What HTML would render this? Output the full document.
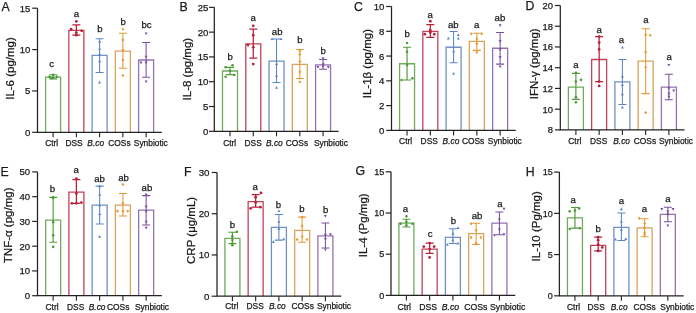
<!DOCTYPE html>
<html><head><meta charset="utf-8"><style>
html,body{margin:0;padding:0;background:#fff;width:696px;height:313px;overflow:hidden}
svg{display:block;will-change:transform}
text{font-family:"Liberation Sans",sans-serif;fill:#1a1a1a;stroke:#1a1a1a;stroke-width:0.25px}
.pl{font-size:12.3px}
.sig{font-size:9.6px;text-anchor:middle}
.tk{text-anchor:end}
.xl{font-size:8.4px}
.it{font-style:italic}
.yl{font-size:11.5px;text-anchor:middle}
</style></head><body>
<svg width="696" height="313" viewBox="0 0 696 313">
<g><text x="1.6" y="10.6" class="pl">A</text><path d="M45.6 132.3V77.2H60.6V132.3" fill="none" stroke="#6fab5c" stroke-width="1.3"/><path d="M53.1 74.72V78.94M49.1 74.72H57.1M49.1 78.94H57.1" stroke="#4f9a3a" stroke-width="1.15" fill="none"/><circle cx="53.1" cy="74.72" r="1.3" fill="#4f9a3a"/><circle cx="49.5" cy="76.7" r="1.3" fill="#4f9a3a"/><circle cx="56.9" cy="76.7" r="1.3" fill="#4f9a3a"/><circle cx="53.1" cy="77.7" r="1.3" fill="#4f9a3a"/><circle cx="51.6" cy="78.11" r="1.3" fill="#4f9a3a"/><text x="51.6" y="67.1" class="sig">c</text><path d="M68.85 132.3V30.37H83.85V132.3" fill="none" stroke="#c4425a" stroke-width="1.3"/><path d="M76.35 24.91V35.17M72.35 24.91H80.35M72.35 35.17H80.35" stroke="#b8203a" stroke-width="1.25" fill="none"/><circle cx="76.35" cy="21.44" r="1.4" fill="#b8203a"/><circle cx="71.15" cy="29.21" r="1.4" fill="#b8203a"/><circle cx="81.65" cy="30.87" r="1.4" fill="#b8203a"/><circle cx="76.35" cy="32.69" r="1.4" fill="#b8203a"/><circle cx="76.35" cy="35.17" r="1.4" fill="#b8203a"/><text x="76.4" y="16.7" class="sig">a</text><path d="M92.1 132.3V55.44H107.1V132.3" fill="none" stroke="#7290c4" stroke-width="1.3"/><path d="M99.6 38.73V72.4M95.6 38.73H103.6M95.6 72.4H103.6" stroke="#5a86c8" stroke-width="1.05" fill="none"/><path d="M99.6 39.69L101.1 42.39H98.1Z" fill="#5a86c8"/><path d="M99.6 47.14L101.1 49.84H98.1Z" fill="#5a86c8"/><path d="M99.6 52.6L101.1 55.3H98.1Z" fill="#5a86c8"/><path d="M99.6 59.55L101.1 62.25H98.1Z" fill="#5a86c8"/><path d="M99.6 80.81L101.1 83.51H98.1Z" fill="#5a86c8"/><text x="100" y="32" class="sig">b</text><path d="M115.35 132.3V51.22H130.35V132.3" fill="none" stroke="#d9a25e" stroke-width="1.3"/><path d="M122.85 33.19V68.26M118.85 33.19H126.85M118.85 68.26H126.85" stroke="#e39a35" stroke-width="1.05" fill="none"/><path d="M122.85 27.61L124.35 29.21L122.85 30.81L121.35 29.21Z" fill="#e39a35"/><path d="M122.85 38.37L124.35 39.97L122.85 41.57L121.35 39.97Z" fill="#e39a35"/><path d="M122.85 48.38L124.35 49.98L122.85 51.58L121.35 49.98Z" fill="#e39a35"/><path d="M122.85 58.31L124.35 59.91L122.85 61.51L121.35 59.91Z" fill="#e39a35"/><path d="M122.85 73.86L124.35 75.46L122.85 77.06L121.35 75.46Z" fill="#e39a35"/><text x="123.1" y="25.2" class="sig">b</text><path d="M138.6 132.3V59.99H153.6V132.3" fill="none" stroke="#9672b0" stroke-width="1.3"/><path d="M146.1 42.45V77.2M142.1 42.45H150.1M142.1 77.2H150.1" stroke="#7a4fa0" stroke-width="1.05" fill="none"/><path d="M146.1 35.12L147.6 32.42H144.6Z" fill="#7a4fa0"/><path d="M146.1 58.36L147.6 55.66H144.6Z" fill="#7a4fa0"/><path d="M140.9 64.24L142.4 61.54H139.4Z" fill="#7a4fa0"/><path d="M146.1 64.24L147.6 61.54H144.6Z" fill="#7a4fa0"/><path d="M146.1 83.18L147.6 80.48H144.6Z" fill="#7a4fa0"/><text x="146.6" y="28.45" class="sig">bc</text><path d="M37.5 8.2V132.3H161.8" stroke="#222" stroke-width="1.25" fill="none"/><path d="M32.2 132.3H37.5" stroke="#222" stroke-width="1.2"/><text x="30.4" y="135.7" class="tk" style="font-size:9.5px">0</text><path d="M32.2 90.93H37.5" stroke="#222" stroke-width="1.2"/><text x="30.4" y="94.33" class="tk" style="font-size:9.5px">5</text><path d="M32.2 49.57H37.5" stroke="#222" stroke-width="1.2"/><text x="30.4" y="52.97" class="tk" style="font-size:9.5px">10</text><path d="M32.2 8.2H37.5" stroke="#222" stroke-width="1.2"/><text x="30.4" y="11.6" class="tk" style="font-size:9.5px">15</text><path d="M53.1 132.3V137.3" stroke="#222" stroke-width="1.1"/><text x="45.2" y="145.9" class="xl">Ctrl</text><path d="M76.35 132.3V137.3" stroke="#222" stroke-width="1.1"/><text x="65.4" y="145.9" class="xl">DSS</text><path d="M99.6 132.3V137.3" stroke="#222" stroke-width="1.1"/><text x="87.3" y="145.9" class="xl it">B.co</text><path d="M122.85 132.3V137.3" stroke="#222" stroke-width="1.1"/><text x="108.3" y="145.9" class="xl">COSs</text><path d="M146.1 132.3V137.3" stroke="#222" stroke-width="1.1"/><text x="133.8" y="145.9" class="xl">Synbiotic</text><text transform="translate(13.6 68.5) rotate(-90)" class="yl">IL-6 (pg/mg)</text></g>
<g><text x="179.4" y="10.55" class="pl">B</text><path d="M222.5 131.3V71.01H237.5V131.3" fill="none" stroke="#6fab5c" stroke-width="1.3"/><path d="M230 67.34V74.68M226 67.34H234M226 74.68H234" stroke="#4f9a3a" stroke-width="1.15" fill="none"/><circle cx="232.5" cy="65.21" r="1.3" fill="#4f9a3a"/><circle cx="225.6" cy="67.19" r="1.3" fill="#4f9a3a"/><circle cx="234.2" cy="74.98" r="1.3" fill="#4f9a3a"/><circle cx="225.6" cy="76.71" r="1.3" fill="#4f9a3a"/><circle cx="230" cy="70.81" r="1.3" fill="#4f9a3a"/><text x="230.1" y="59.5" class="sig">b</text><path d="M245.77 131.3V43.89H260.77V131.3" fill="none" stroke="#c4425a" stroke-width="1.3"/><path d="M253.27 29.21V58.02M249.27 29.21H257.27M249.27 58.02H257.27" stroke="#b8203a" stroke-width="1.25" fill="none"/><circle cx="253.27" cy="25.79" r="1.4" fill="#b8203a"/><circle cx="253.27" cy="35.21" r="1.4" fill="#b8203a"/><circle cx="247.97" cy="45.08" r="1.4" fill="#b8203a"/><circle cx="253.27" cy="47.31" r="1.4" fill="#b8203a"/><circle cx="253.27" cy="64.12" r="1.4" fill="#b8203a"/><text x="253.2" y="20.95" class="sig">a</text><path d="M269.04 131.3V61.09H284.04V131.3" fill="none" stroke="#7290c4" stroke-width="1.3"/><path d="M276.54 38.98V82.41M272.54 38.98H280.54M272.54 82.41H280.54" stroke="#5a86c8" stroke-width="1.05" fill="none"/><path d="M272.04 37.38L273.54 40.08H270.54Z" fill="#5a86c8"/><path d="M281.04 37.38L282.54 40.08H279.54Z" fill="#5a86c8"/><path d="M276.54 62.22L278.04 64.92H275.04Z" fill="#5a86c8"/><path d="M276.54 74.32L278.04 77.02H275.04Z" fill="#5a86c8"/><path d="M276.54 86.02L278.04 88.72H275.04Z" fill="#5a86c8"/><text x="277.2" y="34.9" class="sig">ab</text><path d="M292.31 131.3V64.47H307.31V131.3" fill="none" stroke="#d9a25e" stroke-width="1.3"/><path d="M299.81 49.54V78.4M295.81 49.54H303.81M295.81 78.4H303.81" stroke="#e39a35" stroke-width="1.05" fill="none"/><path d="M299.81 49.38L301.31 50.98L299.81 52.58L298.31 50.98Z" fill="#e39a35"/><path d="M299.81 52.85L301.31 54.45L299.81 56.05L298.31 54.45Z" fill="#e39a35"/><path d="M299.81 59.79L301.31 61.39L299.81 62.99L298.31 61.39Z" fill="#e39a35"/><path d="M299.81 70.2L301.31 71.8L299.81 73.4L298.31 71.8Z" fill="#e39a35"/><path d="M299.81 80.32L301.31 81.92L299.81 83.52L298.31 81.92Z" fill="#e39a35"/><text x="299.8" y="42.7" class="sig">b</text><path d="M315.58 131.3V64.86H330.58V131.3" fill="none" stroke="#9672b0" stroke-width="1.3"/><path d="M323.08 59.41V69.33M319.08 59.41H327.08M319.08 69.33H327.08" stroke="#7a4fa0" stroke-width="1.05" fill="none"/><path d="M323.08 59.92L324.58 57.22H321.58Z" fill="#7a4fa0"/><path d="M323.08 67.95L324.58 65.25H321.58Z" fill="#7a4fa0"/><path d="M317.88 68.79L319.38 66.09H316.38Z" fill="#7a4fa0"/><path d="M328.28 68.79L329.78 66.09H326.78Z" fill="#7a4fa0"/><path d="M323.08 65.97L324.58 63.27H321.58Z" fill="#7a4fa0"/><text x="323.2" y="53.9" class="sig">b</text><path d="M214.3 7.35V131.3H338.6" stroke="#222" stroke-width="1.25" fill="none"/><path d="M209 131.3H214.3" stroke="#222" stroke-width="1.2"/><text x="208.4" y="134.74" class="tk" style="font-size:9.6px">0</text><path d="M209 106.51H214.3" stroke="#222" stroke-width="1.2"/><text x="208.4" y="109.95" class="tk" style="font-size:9.6px">5</text><path d="M209 81.72H214.3" stroke="#222" stroke-width="1.2"/><text x="208.4" y="85.16" class="tk" style="font-size:9.6px">10</text><path d="M209 56.93H214.3" stroke="#222" stroke-width="1.2"/><text x="208.4" y="60.37" class="tk" style="font-size:9.6px">15</text><path d="M209 32.14H214.3" stroke="#222" stroke-width="1.2"/><text x="208.4" y="35.58" class="tk" style="font-size:9.6px">20</text><path d="M209 7.35H214.3" stroke="#222" stroke-width="1.2"/><text x="208.4" y="10.79" class="tk" style="font-size:9.6px">25</text><path d="M230 131.3V136.3" stroke="#222" stroke-width="1.1"/><text x="223.2" y="146" class="xl">Ctrl</text><path d="M253.27 131.3V136.3" stroke="#222" stroke-width="1.1"/><text x="244.5" y="146" class="xl">DSS</text><path d="M276.54 131.3V136.3" stroke="#222" stroke-width="1.1"/><text x="266" y="146" class="xl it">B.co</text><path d="M299.81 131.3V136.3" stroke="#222" stroke-width="1.1"/><text x="285.75" y="146" class="xl">COSs</text><path d="M323.08 131.3V136.3" stroke="#222" stroke-width="1.1"/><text x="313.95" y="146" class="xl">Synbiotic</text><text transform="translate(190.8 69.15) rotate(-90)" class="yl">IL-8 (pg/mg)</text></g>
<g><text x="354.1" y="10.6" class="pl">C</text><path d="M399.55 130.4V63.74H414.55V130.4" fill="none" stroke="#6fab5c" stroke-width="1.3"/><path d="M407.05 47.26V79.97M403.05 47.26H411.05M403.05 79.97H411.05" stroke="#4f9a3a" stroke-width="1.15" fill="none"/><circle cx="407.05" cy="43.05" r="1.3" fill="#4f9a3a"/><circle cx="407.05" cy="51.72" r="1.3" fill="#4f9a3a"/><circle cx="407.05" cy="64.98" r="1.3" fill="#4f9a3a"/><circle cx="401.55" cy="79.97" r="1.3" fill="#4f9a3a"/><circle cx="412.35" cy="78.36" r="1.3" fill="#4f9a3a"/><text x="407.1" y="37.3" class="sig">b</text><path d="M422.82 130.4V31.28H437.82V130.4" fill="none" stroke="#c4425a" stroke-width="1.3"/><path d="M430.32 24.71V37.48M426.32 24.71H434.32M426.32 37.48H434.32" stroke="#b8203a" stroke-width="1.25" fill="none"/><circle cx="430.32" cy="21.24" r="1.4" fill="#b8203a"/><circle cx="430.32" cy="30.04" r="1.4" fill="#b8203a"/><circle cx="424.82" cy="34.13" r="1.4" fill="#b8203a"/><circle cx="434.32" cy="34.13" r="1.4" fill="#b8203a"/><circle cx="430.32" cy="32.52" r="1.4" fill="#b8203a"/><text x="430.1" y="17.5" class="sig">a</text><path d="M446.09 130.4V47.26H461.09V130.4" fill="none" stroke="#7290c4" stroke-width="1.3"/><path d="M453.59 31.53V62.75M449.59 31.53H457.59M449.59 62.75H457.59" stroke="#5a86c8" stroke-width="1.05" fill="none"/><path d="M448.29 36.74L449.79 39.44H446.79Z" fill="#5a86c8"/><path d="M458.29 33.4L459.79 36.1H456.79Z" fill="#5a86c8"/><path d="M458.29 36.74L459.79 39.44H456.79Z" fill="#5a86c8"/><path d="M453.59 49.63L455.09 52.33H452.09Z" fill="#5a86c8"/><path d="M453.59 72.05L455.09 74.75H452.09Z" fill="#5a86c8"/><text x="453.3" y="27.8" class="sig">ab</text><path d="M469.36 130.4V41.44H484.36V130.4" fill="none" stroke="#d9a25e" stroke-width="1.3"/><path d="M476.86 33.26V50.36M472.86 33.26H480.86M472.86 50.36H480.86" stroke="#e39a35" stroke-width="1.05" fill="none"/><path d="M471.26 32.16L472.76 33.76L471.26 35.36L469.76 33.76Z" fill="#e39a35"/><path d="M481.66 32.16L483.16 33.76L481.66 35.36L480.16 33.76Z" fill="#e39a35"/><path d="M476.86 37.11L478.36 38.71L476.86 40.31L475.36 38.71Z" fill="#e39a35"/><path d="M476.86 42.07L478.36 43.67L476.86 45.27L475.36 43.67Z" fill="#e39a35"/><path d="M476.86 50.74L478.36 52.34L476.86 53.94L475.36 52.34Z" fill="#e39a35"/><text x="476.6" y="27.8" class="sig">a</text><path d="M492.63 130.4V48.25H507.63V130.4" fill="none" stroke="#9672b0" stroke-width="1.3"/><path d="M500.13 32.4V64.11M496.13 32.4H504.13M496.13 64.11H504.13" stroke="#7a4fa0" stroke-width="1.05" fill="none"/><path d="M500.13 27.06L501.63 24.36H498.63Z" fill="#7a4fa0"/><path d="M500.13 42.79L501.63 40.09H498.63Z" fill="#7a4fa0"/><path d="M500.13 51.09L501.63 48.39H498.63Z" fill="#7a4fa0"/><path d="M500.13 58.78L501.63 56.08H498.63Z" fill="#7a4fa0"/><path d="M500.13 68.32L501.63 65.62H498.63Z" fill="#7a4fa0"/><text x="499.9" y="21.4" class="sig">ab</text><path d="M391.5 6.5V130.4H515.8" stroke="#222" stroke-width="1.25" fill="none"/><path d="M386.2 130.4H391.5" stroke="#222" stroke-width="1.2"/><text x="384.3" y="133.84" class="tk" style="font-size:9.6px">0</text><path d="M386.2 105.62H391.5" stroke="#222" stroke-width="1.2"/><text x="384.3" y="109.06" class="tk" style="font-size:9.6px">2</text><path d="M386.2 80.84H391.5" stroke="#222" stroke-width="1.2"/><text x="384.3" y="84.28" class="tk" style="font-size:9.6px">4</text><path d="M386.2 56.06H391.5" stroke="#222" stroke-width="1.2"/><text x="384.3" y="59.5" class="tk" style="font-size:9.6px">6</text><path d="M386.2 31.28H391.5" stroke="#222" stroke-width="1.2"/><text x="384.3" y="34.72" class="tk" style="font-size:9.6px">8</text><path d="M386.2 6.5H391.5" stroke="#222" stroke-width="1.2"/><text x="384.3" y="9.94" class="tk" style="font-size:9.6px">10</text><path d="M407.05 130.4V135.4" stroke="#222" stroke-width="1.1"/><text x="399.1" y="144.2" class="xl">Ctrl</text><path d="M430.32 130.4V135.4" stroke="#222" stroke-width="1.1"/><text x="420.6" y="144.2" class="xl">DSS</text><path d="M453.59 130.4V135.4" stroke="#222" stroke-width="1.1"/><text x="442.6" y="144.2" class="xl it">B.co</text><path d="M476.86 130.4V135.4" stroke="#222" stroke-width="1.1"/><text x="461.9" y="144.2" class="xl">COSs</text><path d="M500.13 130.4V135.4" stroke="#222" stroke-width="1.1"/><text x="487.8" y="144.2" class="xl">Synbiotic</text><text transform="translate(370.6 63.65) rotate(-90)" class="yl">IL-1β (pg/mg)</text></g>
<g><text x="525.4" y="10.2" class="pl">D</text><path d="M568.4 129.9V87.09H583.4V129.9" fill="none" stroke="#6fab5c" stroke-width="1.3"/><path d="M575.9 73.4V99.32M571.9 73.4H579.9M571.9 99.32H579.9" stroke="#4f9a3a" stroke-width="1.15" fill="none"/><circle cx="575.9" cy="72.88" r="1.3" fill="#4f9a3a"/><circle cx="581" cy="79.83" r="1.3" fill="#4f9a3a"/><circle cx="575.9" cy="81.59" r="1.3" fill="#4f9a3a"/><circle cx="575.9" cy="97.14" r="1.3" fill="#4f9a3a"/><circle cx="575.9" cy="102.22" r="1.3" fill="#4f9a3a"/><text x="575.8" y="68.3" class="sig">a</text><path d="M591.65 129.9V59.51H606.65V129.9" fill="none" stroke="#c4425a" stroke-width="1.3"/><path d="M599.15 36.6V81.59M595.15 36.6H603.15M595.15 81.59H603.15" stroke="#b8203a" stroke-width="1.25" fill="none"/><circle cx="599.15" cy="36.6" r="1.4" fill="#b8203a"/><circle cx="599.15" cy="42.61" r="1.4" fill="#b8203a"/><circle cx="599.15" cy="49.45" r="1.4" fill="#b8203a"/><circle cx="599.15" cy="81.59" r="1.4" fill="#b8203a"/><circle cx="599.15" cy="85.95" r="1.4" fill="#b8203a"/><text x="599.1" y="33" class="sig">a</text><path d="M614.9 129.9V81.9H629.9V129.9" fill="none" stroke="#7290c4" stroke-width="1.3"/><path d="M622.4 59.51V104.5M618.4 59.51H626.4M618.4 104.5H626.4" stroke="#5a86c8" stroke-width="1.05" fill="none"/><path d="M622.4 45.78L623.9 48.48H620.9Z" fill="#5a86c8"/><path d="M622.4 74.81L623.9 77.51H620.9Z" fill="#5a86c8"/><path d="M622.4 83.41L623.9 86.11H620.9Z" fill="#5a86c8"/><path d="M622.4 92.54L623.9 95.24H620.9Z" fill="#5a86c8"/><path d="M622.4 105.8L623.9 108.5H620.9Z" fill="#5a86c8"/><text x="621.5" y="42.6" class="sig">a</text><path d="M638.15 129.9V61.17H653.15V129.9" fill="none" stroke="#d9a25e" stroke-width="1.3"/><path d="M645.65 28.83V93.62M641.65 28.83H649.65M641.65 93.62H649.65" stroke="#e39a35" stroke-width="1.05" fill="none"/><path d="M645.65 33.24L647.15 34.84L645.65 36.44L644.15 34.84Z" fill="#e39a35"/><path d="M650.15 33.76L651.65 35.36L650.15 36.96L648.65 35.36Z" fill="#e39a35"/><path d="M645.65 50.55L647.15 52.15L645.65 53.75L644.15 52.15Z" fill="#e39a35"/><path d="M645.65 65.58L647.15 67.18L645.65 68.78L644.15 67.18Z" fill="#e39a35"/><path d="M645.65 110.99L647.15 112.59L645.65 114.19L644.15 112.59Z" fill="#e39a35"/><text x="646" y="22.5" class="sig">a</text><path d="M661.4 129.9V87.09H676.4V129.9" fill="none" stroke="#9672b0" stroke-width="1.3"/><path d="M668.9 74.33V99.73M664.9 74.33H672.9M664.9 99.73H672.9" stroke="#7a4fa0" stroke-width="1.05" fill="none"/><path d="M668.9 66.6L670.4 63.9H667.4Z" fill="#7a4fa0"/><path d="M668.9 90.03L670.4 87.33H667.4Z" fill="#7a4fa0"/><path d="M673.7 92.31L675.2 89.61H672.2Z" fill="#7a4fa0"/><path d="M668.9 95.22L670.4 92.52H667.4Z" fill="#7a4fa0"/><path d="M668.9 98.33L670.4 95.63H667.4Z" fill="#7a4fa0"/><text x="669.2" y="60.4" class="sig">a</text><path d="M560.3 5.5V129.9H684.6" stroke="#222" stroke-width="1.25" fill="none"/><path d="M555 129.9H560.3" stroke="#222" stroke-width="1.2"/><text x="553" y="133.27" class="tk" style="font-size:9.4px">8</text><path d="M555 109.17H560.3" stroke="#222" stroke-width="1.2"/><text x="553" y="112.53" class="tk" style="font-size:9.4px">10</text><path d="M555 88.43H560.3" stroke="#222" stroke-width="1.2"/><text x="553" y="91.8" class="tk" style="font-size:9.4px">12</text><path d="M555 67.7H560.3" stroke="#222" stroke-width="1.2"/><text x="553" y="71.07" class="tk" style="font-size:9.4px">14</text><path d="M555 46.97H560.3" stroke="#222" stroke-width="1.2"/><text x="553" y="50.33" class="tk" style="font-size:9.4px">16</text><path d="M555 26.23H560.3" stroke="#222" stroke-width="1.2"/><text x="553" y="29.6" class="tk" style="font-size:9.4px">18</text><path d="M555 5.5H560.3" stroke="#222" stroke-width="1.2"/><text x="553" y="8.87" class="tk" style="font-size:9.4px">20</text><path d="M575.9 129.9V134.9" stroke="#222" stroke-width="1.1"/><text x="568.25" y="144.3" class="xl">Ctrl</text><path d="M599.15 129.9V134.9" stroke="#222" stroke-width="1.1"/><text x="590" y="144.3" class="xl">DSS</text><path d="M622.4 129.9V134.9" stroke="#222" stroke-width="1.1"/><text x="613.25" y="144.3" class="xl it">B.co</text><path d="M645.65 129.9V134.9" stroke="#222" stroke-width="1.1"/><text x="633.75" y="144.3" class="xl">COSs</text><path d="M668.9 129.9V134.9" stroke="#222" stroke-width="1.1"/><text x="659" y="144.3" class="xl">Synbiotic</text><text transform="translate(537.5 63.85) rotate(-90)" class="yl">IFN-γ (pg/mg)</text></g>
<g><text x="0.45" y="176.1" class="pl">E</text><path d="M45.65 295.7V220.11H60.65V295.7" fill="none" stroke="#6fab5c" stroke-width="1.3"/><path d="M53.15 197.3V242.22M49.15 197.3H57.15M49.15 242.22H57.15" stroke="#4f9a3a" stroke-width="1.15" fill="none"/><circle cx="53.15" cy="197.3" r="1.3" fill="#4f9a3a"/><circle cx="53.15" cy="222.21" r="1.3" fill="#4f9a3a"/><circle cx="53.15" cy="235.31" r="1.3" fill="#4f9a3a"/><circle cx="53.15" cy="246.92" r="1.3" fill="#4f9a3a"/><circle cx="53.15" cy="197.9" r="1.3" fill="#4f9a3a"/><text x="52.4" y="191.8" class="sig">b</text><path d="M68.9 295.7V192.1H83.9V295.7" fill="none" stroke="#c4425a" stroke-width="1.3"/><path d="M76.4 179.7V203.35M72.4 179.7H80.4M72.4 203.35H80.4" stroke="#b8203a" stroke-width="1.25" fill="none"/><circle cx="76.4" cy="178.71" r="1.4" fill="#b8203a"/><circle cx="76.4" cy="193.49" r="1.4" fill="#b8203a"/><circle cx="71.9" cy="203.35" r="1.4" fill="#b8203a"/><circle cx="81.4" cy="202.6" r="1.4" fill="#b8203a"/><circle cx="76.4" cy="203.35" r="1.4" fill="#b8203a"/><text x="76.2" y="173.3" class="sig">a</text><path d="M92.15 295.7V205.1H107.15V295.7" fill="none" stroke="#7290c4" stroke-width="1.3"/><path d="M99.65 186.11V224M95.65 186.11H103.65M95.65 224H103.65" stroke="#5a86c8" stroke-width="1.05" fill="none"/><path d="M99.65 193.08L101.15 195.78H98.15Z" fill="#5a86c8"/><path d="M99.65 203.73L101.15 206.43H98.15Z" fill="#5a86c8"/><path d="M99.65 212.39L101.15 215.09H98.15Z" fill="#5a86c8"/><path d="M99.65 235L101.15 237.7H98.15Z" fill="#5a86c8"/><path d="M99.65 184.51L101.15 187.21H98.15Z" fill="#5a86c8"/><text x="99.5" y="181.9" class="sig">ab</text><path d="M115.4 295.7V205.1H130.4V295.7" fill="none" stroke="#d9a25e" stroke-width="1.3"/><path d="M122.9 193.49V215.9M118.9 193.49H126.9M118.9 215.9H126.9" stroke="#e39a35" stroke-width="1.05" fill="none"/><path d="M122.9 182.8L124.4 184.4L122.9 186L121.4 184.4Z" fill="#e39a35"/><path d="M122.9 201.75L124.4 203.35L122.9 204.95L121.4 203.35Z" fill="#e39a35"/><path d="M117.5 209.5L119 211.1L117.5 212.7L116 211.1Z" fill="#e39a35"/><path d="M122.9 209.5L124.4 211.1L122.9 212.7L121.4 211.1Z" fill="#e39a35"/><path d="M127.8 209.5L129.3 211.1L127.8 212.7L126.3 211.1Z" fill="#e39a35"/><text x="123.6" y="180.5" class="sig">ab</text><path d="M138.65 295.7V210.2H153.65V295.7" fill="none" stroke="#9672b0" stroke-width="1.3"/><path d="M146.15 195.6V225.01M142.15 195.6H150.15M142.15 225.01H150.15" stroke="#7a4fa0" stroke-width="1.05" fill="none"/><path d="M146.15 196.28L147.65 193.58H144.65Z" fill="#7a4fa0"/><path d="M146.15 213.12L147.65 210.42H144.65Z" fill="#7a4fa0"/><path d="M146.15 223.52L147.65 220.82H144.65Z" fill="#7a4fa0"/><path d="M146.15 229.46L147.65 226.76H144.65Z" fill="#7a4fa0"/><path d="M146.15 208.16L147.65 205.46H144.65Z" fill="#7a4fa0"/><text x="146.9" y="190.9" class="sig">ab</text><path d="M37.5 171.9V295.7H161.8" stroke="#222" stroke-width="1.25" fill="none"/><path d="M32.2 295.7H37.5" stroke="#222" stroke-width="1.2"/><text x="30.2" y="299.14" class="tk" style="font-size:9.6px">0</text><path d="M32.2 270.94H37.5" stroke="#222" stroke-width="1.2"/><text x="30.2" y="274.38" class="tk" style="font-size:9.6px">10</text><path d="M32.2 246.18H37.5" stroke="#222" stroke-width="1.2"/><text x="30.2" y="249.62" class="tk" style="font-size:9.6px">20</text><path d="M32.2 221.42H37.5" stroke="#222" stroke-width="1.2"/><text x="30.2" y="224.86" class="tk" style="font-size:9.6px">30</text><path d="M32.2 196.66H37.5" stroke="#222" stroke-width="1.2"/><text x="30.2" y="200.1" class="tk" style="font-size:9.6px">40</text><path d="M32.2 171.9H37.5" stroke="#222" stroke-width="1.2"/><text x="30.2" y="175.34" class="tk" style="font-size:9.6px">50</text><path d="M53.15 295.7V300.7" stroke="#222" stroke-width="1.1"/><text x="45.5" y="310.3" class="xl">Ctrl</text><path d="M76.4 295.7V300.7" stroke="#222" stroke-width="1.1"/><text x="67" y="310.3" class="xl">DSS</text><path d="M99.65 295.7V300.7" stroke="#222" stroke-width="1.1"/><text x="88.75" y="310.3" class="xl it">B.co</text><path d="M122.9 295.7V300.7" stroke="#222" stroke-width="1.1"/><text x="107" y="310.3" class="xl">COSs</text><path d="M146.15 295.7V300.7" stroke="#222" stroke-width="1.1"/><text x="135" y="310.3" class="xl">Synbiotic</text><text transform="translate(12.3 225.35) rotate(-90)" class="yl">TNF-α (pg/mg)</text></g>
<g><text x="184.1" y="175.9" class="pl">F</text><path d="M224.9 296.2V238.39H239.9V296.2" fill="none" stroke="#6fab5c" stroke-width="1.3"/><path d="M232.4 232.29V243.59M228.4 232.29H236.4M228.4 243.59H236.4" stroke="#4f9a3a" stroke-width="1.15" fill="none"/><circle cx="236.9" cy="231.71" r="1.3" fill="#4f9a3a"/><circle cx="232.4" cy="240.12" r="1.3" fill="#4f9a3a"/><circle cx="232.4" cy="243.59" r="1.3" fill="#4f9a3a"/><circle cx="232.4" cy="245.28" r="1.3" fill="#4f9a3a"/><circle cx="232.4" cy="236.41" r="1.3" fill="#4f9a3a"/><text x="232.4" y="227.5" class="sig">b</text><path d="M248.15 296.2V201.53H263.15V296.2" fill="none" stroke="#c4425a" stroke-width="1.3"/><path d="M255.65 194.68V207.14M251.65 194.68H259.65M251.65 207.14H259.65" stroke="#b8203a" stroke-width="1.25" fill="none"/><circle cx="260.95" cy="192.91" r="1.4" fill="#b8203a"/><circle cx="255.65" cy="197.24" r="1.4" fill="#b8203a"/><circle cx="255.65" cy="202.39" r="1.4" fill="#b8203a"/><circle cx="250.65" cy="208.37" r="1.4" fill="#b8203a"/><circle cx="260.45" cy="207.14" r="1.4" fill="#b8203a"/><text x="255.2" y="189.5" class="sig">a</text><path d="M271.4 296.2V227.38H286.4V296.2" fill="none" stroke="#7290c4" stroke-width="1.3"/><path d="M278.9 214.48V240.12M274.9 214.48H282.9M274.9 240.12H282.9" stroke="#5a86c8" stroke-width="1.05" fill="none"/><path d="M278.9 209.41L280.4 212.11H277.4Z" fill="#5a86c8"/><path d="M278.9 227.31L280.4 230.01H277.4Z" fill="#5a86c8"/><path d="M273.4 240.21L274.9 242.91H271.9Z" fill="#5a86c8"/><path d="M283.8 237.57L285.3 240.27H282.3Z" fill="#5a86c8"/><path d="M278.9 220.38L280.4 223.08H277.4Z" fill="#5a86c8"/><text x="278.5" y="207.9" class="sig">b</text><path d="M294.65 296.2V230.31H309.65V296.2" fill="none" stroke="#d9a25e" stroke-width="1.3"/><path d="M302.15 217.11V242.31M298.15 217.11H306.15M298.15 242.31H306.15" stroke="#e39a35" stroke-width="1.05" fill="none"/><path d="M302.15 215.51L303.65 217.11L302.15 218.71L300.65 217.11Z" fill="#e39a35"/><path d="M302.15 235.1L303.65 236.7L302.15 238.3L300.65 236.7Z" fill="#e39a35"/><path d="M297.05 237.99L298.55 239.59L297.05 241.19L295.55 239.59Z" fill="#e39a35"/><path d="M306.95 237.99L308.45 239.59L306.95 241.19L305.45 239.59Z" fill="#e39a35"/><path d="M302.15 224.5L303.65 226.1L302.15 227.7L300.65 226.1Z" fill="#e39a35"/><text x="301.8" y="211.8" class="sig">b</text><path d="M317.9 296.2V235.79H332.9V296.2" fill="none" stroke="#9672b0" stroke-width="1.3"/><path d="M325.4 223.09V247.92M321.4 223.09H329.4M321.4 247.92H329.4" stroke="#7a4fa0" stroke-width="1.05" fill="none"/><path d="M325.4 217.81L326.9 215.11H323.9Z" fill="#7a4fa0"/><path d="M325.4 236.49L326.9 233.79H323.9Z" fill="#7a4fa0"/><path d="M330.5 235.99L332 233.29H329Z" fill="#7a4fa0"/><path d="M325.4 240.77L326.9 238.07H323.9Z" fill="#7a4fa0"/><path d="M325.4 251.21L326.9 248.51H323.9Z" fill="#7a4fa0"/><text x="325.6" y="212.8" class="sig">b</text><path d="M217 172.5V296.2H341.3" stroke="#222" stroke-width="1.25" fill="none"/><path d="M211.7 296.2H217" stroke="#222" stroke-width="1.2"/><text x="209.5" y="299.67" class="tk" style="font-size:9.7px">0</text><path d="M211.7 254.97H217" stroke="#222" stroke-width="1.2"/><text x="209.5" y="258.44" class="tk" style="font-size:9.7px">10</text><path d="M211.7 213.73H217" stroke="#222" stroke-width="1.2"/><text x="209.5" y="217.21" class="tk" style="font-size:9.7px">20</text><path d="M211.7 172.5H217" stroke="#222" stroke-width="1.2"/><text x="209.5" y="175.97" class="tk" style="font-size:9.7px">30</text><path d="M232.4 296.2V301.2" stroke="#222" stroke-width="1.1"/><text x="225.25" y="309.3" class="xl">Ctrl</text><path d="M255.65 296.2V301.2" stroke="#222" stroke-width="1.1"/><text x="246.5" y="309.3" class="xl">DSS</text><path d="M278.9 296.2V301.2" stroke="#222" stroke-width="1.1"/><text x="269" y="309.3" class="xl it">B.co</text><path d="M302.15 296.2V301.2" stroke="#222" stroke-width="1.1"/><text x="291.5" y="309.3" class="xl">COSs</text><path d="M325.4 296.2V301.2" stroke="#222" stroke-width="1.1"/><text x="317" y="309.3" class="xl">Synbiotic</text><text transform="translate(194.7 230.4) rotate(-90)" class="yl">CRP (μg/mL)</text></g>
<g><text x="355.6" y="175.2" class="pl">G</text><path d="M398.9 295.4V223.22H413.9V295.4" fill="none" stroke="#6fab5c" stroke-width="1.3"/><path d="M406.4 219.26V227.01M402.4 219.26H410.4M402.4 227.01H410.4" stroke="#4f9a3a" stroke-width="1.15" fill="none"/><circle cx="406.4" cy="216.3" r="1.3" fill="#4f9a3a"/><circle cx="406.4" cy="221.9" r="1.3" fill="#4f9a3a"/><circle cx="400.6" cy="223.71" r="1.3" fill="#4f9a3a"/><circle cx="412.6" cy="223.71" r="1.3" fill="#4f9a3a"/><circle cx="406.4" cy="225.36" r="1.3" fill="#4f9a3a"/><text x="405.4" y="211.8" class="sig">a</text><path d="M422.15 295.4V249.09H437.15V295.4" fill="none" stroke="#c4425a" stroke-width="1.3"/><path d="M429.65 243.08V253.38M425.65 243.08H433.65M425.65 253.38H433.65" stroke="#b8203a" stroke-width="1.25" fill="none"/><circle cx="429.65" cy="243.08" r="1.4" fill="#b8203a"/><circle cx="423.75" cy="246.62" r="1.4" fill="#b8203a"/><circle cx="434.15" cy="246.62" r="1.4" fill="#b8203a"/><circle cx="429.65" cy="249.09" r="1.4" fill="#b8203a"/><circle cx="429.65" cy="257.41" r="1.4" fill="#b8203a"/><text x="430.1" y="237.1" class="sig">c</text><path d="M445.4 295.4V237.39H460.4V295.4" fill="none" stroke="#7290c4" stroke-width="1.3"/><path d="M452.9 228.82V243.41M448.9 228.82H456.9M448.9 243.41H456.9" stroke="#5a86c8" stroke-width="1.05" fill="none"/><path d="M458 226.31L459.5 229.01H456.5Z" fill="#5a86c8"/><path d="M452.9 238.43L454.4 241.13H451.4Z" fill="#5a86c8"/><path d="M447.4 242.96L448.9 245.66H445.9Z" fill="#5a86c8"/><path d="M458 241.81L459.5 244.51H456.5Z" fill="#5a86c8"/><path d="M452.9 232L454.4 234.7H451.4Z" fill="#5a86c8"/><text x="453.3" y="223.9" class="sig">b</text><path d="M468.65 295.4V233.6H483.65V295.4" fill="none" stroke="#d9a25e" stroke-width="1.3"/><path d="M476.15 223.22V244.56M472.15 223.22H480.15M472.15 244.56H480.15" stroke="#e39a35" stroke-width="1.05" fill="none"/><path d="M471.05 222.03L472.55 223.63L471.05 225.23L469.55 223.63Z" fill="#e39a35"/><path d="M471.05 235.79L472.55 237.39L471.05 238.99L469.55 237.39Z" fill="#e39a35"/><path d="M480.95 235.79L482.45 237.39L480.95 238.99L479.45 237.39Z" fill="#e39a35"/><path d="M476.15 241.81L477.65 243.41L476.15 245.01L474.65 243.41Z" fill="#e39a35"/><path d="M476.15 228.7L477.65 230.3L476.15 231.9L474.65 230.3Z" fill="#e39a35"/><text x="477" y="219.2" class="sig">ab</text><path d="M491.9 295.4V223.22H506.9V295.4" fill="none" stroke="#9672b0" stroke-width="1.3"/><path d="M499.4 211.93V234.84M495.4 211.93H503.4M495.4 234.84H503.4" stroke="#7a4fa0" stroke-width="1.05" fill="none"/><path d="M504 210.48L505.5 207.78H502.5Z" fill="#7a4fa0"/><path d="M494.5 236.93L496 234.23H493Z" fill="#7a4fa0"/><path d="M504 235.94L505.5 233.24H502.5Z" fill="#7a4fa0"/><path d="M499.4 221.19L500.9 218.49H497.9Z" fill="#7a4fa0"/><path d="M499.4 231.08L500.9 228.38H497.9Z" fill="#7a4fa0"/><text x="499.9" y="206.7" class="sig">a</text><path d="M391 171.8V295.4H515.3" stroke="#222" stroke-width="1.25" fill="none"/><path d="M385.7 295.4H391" stroke="#222" stroke-width="1.2"/><text x="384.4" y="298.66" class="tk" style="font-size:9.1px">0</text><path d="M385.7 254.2H391" stroke="#222" stroke-width="1.2"/><text x="384.4" y="257.46" class="tk" style="font-size:9.1px">5</text><path d="M385.7 213H391" stroke="#222" stroke-width="1.2"/><text x="384.4" y="216.26" class="tk" style="font-size:9.1px">10</text><path d="M385.7 171.8H391" stroke="#222" stroke-width="1.2"/><text x="384.4" y="175.06" class="tk" style="font-size:9.1px">15</text><path d="M406.4 295.4V300.4" stroke="#222" stroke-width="1.1"/><text x="397.5" y="309.6" class="xl" style="font-size:8.7px">Ctrl</text><path d="M429.65 295.4V300.4" stroke="#222" stroke-width="1.1"/><text x="419.25" y="309.6" class="xl" style="font-size:8.7px">DSS</text><path d="M452.9 295.4V300.4" stroke="#222" stroke-width="1.1"/><text x="441.75" y="309.6" class="xl it" style="font-size:8.7px">B.co</text><path d="M476.15 295.4V300.4" stroke="#222" stroke-width="1.1"/><text x="464.25" y="309.6" class="xl" style="font-size:8.7px">COSs</text><path d="M499.4 295.4V300.4" stroke="#222" stroke-width="1.1"/><text x="490" y="309.6" class="xl" style="font-size:8.7px">Synbiotic</text><text transform="translate(367.4 225.3) rotate(-90)" class="yl">IL-4 (Pg/mg)</text></g>
<g><text x="525.7" y="176.1" class="pl">H</text><path d="M567.45 295.8V217.87H582.45V295.8" fill="none" stroke="#6fab5c" stroke-width="1.3"/><path d="M574.95 207.48V228.18M570.95 207.48H578.95M570.95 228.18H578.95" stroke="#4f9a3a" stroke-width="1.15" fill="none"/><circle cx="569.75" cy="211.27" r="1.3" fill="#4f9a3a"/><circle cx="579.15" cy="208.39" r="1.3" fill="#4f9a3a"/><circle cx="574.95" cy="210.61" r="1.3" fill="#4f9a3a"/><circle cx="569.75" cy="229" r="1.3" fill="#4f9a3a"/><circle cx="580.05" cy="228.18" r="1.3" fill="#4f9a3a"/><text x="573.2" y="203.1" class="sig">a</text><path d="M590.67 295.8V245.33H605.67V295.8" fill="none" stroke="#c4425a" stroke-width="1.3"/><path d="M598.17 237.08V250.94M594.17 237.08H602.17M594.17 250.94H602.17" stroke="#b8203a" stroke-width="1.25" fill="none"/><circle cx="598.17" cy="237.08" r="1.4" fill="#b8203a"/><circle cx="598.17" cy="240.22" r="1.4" fill="#b8203a"/><circle cx="602.27" cy="247.39" r="1.4" fill="#b8203a"/><circle cx="598.17" cy="250.94" r="1.4" fill="#b8203a"/><circle cx="598.17" cy="244.67" r="1.4" fill="#b8203a"/><text x="598.2" y="232.4" class="sig">b</text><path d="M613.89 295.8V227.35H628.89V295.8" fill="none" stroke="#7290c4" stroke-width="1.3"/><path d="M621.39 213V240.55M617.39 213H625.39M617.39 240.55H625.39" stroke="#5a86c8" stroke-width="1.05" fill="none"/><path d="M621.39 207.61L622.89 210.31H619.89Z" fill="#5a86c8"/><path d="M621.39 228.23L622.89 230.93H619.89Z" fill="#5a86c8"/><path d="M615.49 237.79L616.99 240.49H613.99Z" fill="#5a86c8"/><path d="M625.79 237.3L627.29 240H624.29Z" fill="#5a86c8"/><path d="M621.39 219.98L622.89 222.68H619.89Z" fill="#5a86c8"/><text x="621.5" y="204.3" class="sig">a</text><path d="M637.11 295.8V227.93H652.11V295.8" fill="none" stroke="#d9a25e" stroke-width="1.3"/><path d="M644.61 218.69V236.67M640.61 218.69H648.61M640.61 236.67H648.61" stroke="#e39a35" stroke-width="1.05" fill="none"/><path d="M639.31 216.68L640.81 218.28L639.31 219.88L637.81 218.28Z" fill="#e39a35"/><path d="M644.61 226.33L646.11 227.93L644.61 229.53L643.11 227.93Z" fill="#e39a35"/><path d="M644.61 230.87L646.11 232.47L644.61 234.07L643.11 232.47Z" fill="#e39a35"/><path d="M644.61 233.17L646.11 234.77L644.61 236.37L643.11 234.77Z" fill="#e39a35"/><path d="M644.61 221.63L646.11 223.23L644.61 224.83L643.11 223.23Z" fill="#e39a35"/><text x="644.4" y="212.2" class="sig">a</text><path d="M660.33 295.8V214.41H675.33V295.8" fill="none" stroke="#9672b0" stroke-width="1.3"/><path d="M667.83 207.23V221.66M663.83 207.23H671.83M663.83 221.66H671.83" stroke="#7a4fa0" stroke-width="1.05" fill="none"/><path d="M661.83 210.81L663.33 208.11H660.33Z" fill="#7a4fa0"/><path d="M673.03 210.81L674.53 208.11H671.53Z" fill="#7a4fa0"/><path d="M667.83 216.01L669.33 213.31H666.33Z" fill="#7a4fa0"/><path d="M667.83 227.22L669.33 224.52H666.33Z" fill="#7a4fa0"/><path d="M667.83 213.28L669.33 210.58H666.33Z" fill="#7a4fa0"/><text x="668" y="201.9" class="sig">a</text><path d="M559.4 172.1V295.8H683.7" stroke="#222" stroke-width="1.25" fill="none"/><path d="M554.1 295.8H559.4" stroke="#222" stroke-width="1.2"/><text x="552.8" y="299.02" class="tk" style="font-size:9.0px">0</text><path d="M554.1 254.57H559.4" stroke="#222" stroke-width="1.2"/><text x="552.8" y="257.79" class="tk" style="font-size:9.0px">5</text><path d="M554.1 213.33H559.4" stroke="#222" stroke-width="1.2"/><text x="552.8" y="216.56" class="tk" style="font-size:9.0px">10</text><path d="M554.1 172.1H559.4" stroke="#222" stroke-width="1.2"/><text x="552.8" y="175.32" class="tk" style="font-size:9.0px">15</text><path d="M574.95 295.8V300.8" stroke="#222" stroke-width="1.1"/><text x="567" y="310" class="xl">Ctrl</text><path d="M598.17 295.8V300.8" stroke="#222" stroke-width="1.1"/><text x="587.5" y="310" class="xl">DSS</text><path d="M621.39 295.8V300.8" stroke="#222" stroke-width="1.1"/><text x="610.8" y="310" class="xl it">B.co</text><path d="M644.61 295.8V300.8" stroke="#222" stroke-width="1.1"/><text x="633.4" y="310" class="xl">COSs</text><path d="M667.83 295.8V300.8" stroke="#222" stroke-width="1.1"/><text x="660.3" y="310" class="xl">Synbiotic</text><text transform="translate(540 226.3) rotate(-90)" class="yl">IL-10 (Pg/mg)</text></g>
</svg>
</body></html>
